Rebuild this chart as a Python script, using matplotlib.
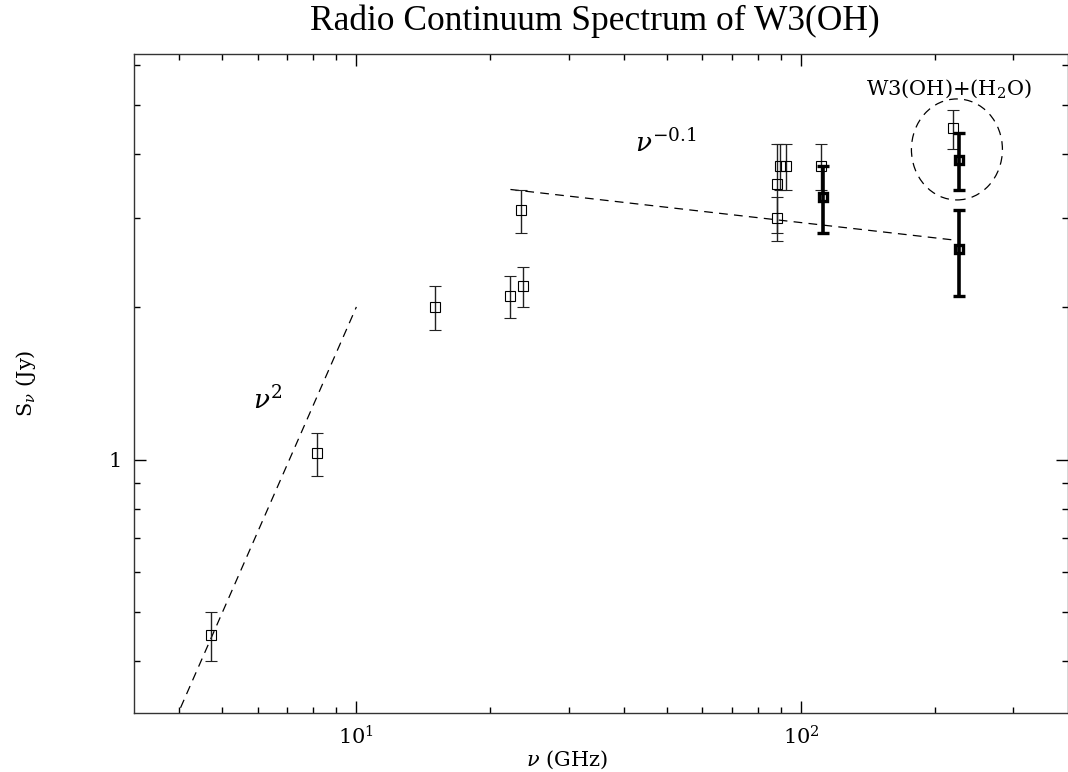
import matplotlib
matplotlib.use("Agg")
import numpy as np
import matplotlib.pyplot as plt
from matplotlib.patches import Ellipse
from matplotlib.ticker import LogLocator, FixedLocator, FixedFormatter, NullFormatter

plt.rcParams['font.family'] = ['DejaVu Serif']
plt.rcParams['mathtext.fontset'] = 'dejavuserif'

# Measurements with single-dish / interferometer (thin symbols)
nu_thin = [4.7, 8.15, 15.0, 22.2, 23.7, 23.4, 88.1, 89.6, 92.5, 88.3, 110.6, 220.0]
s_thin = [0.45, 1.03, 2.0, 2.1, 2.2, 3.1, 3.5, 3.8, 3.8, 3.0, 3.8, 4.5]
e_thin = [0.05, 0.10, 0.2, 0.2, 0.2, 0.3, 0.7, 0.4, 0.4, 0.3, 0.4, 0.4]

# New measurements (bold symbols)
nu_bold = [112.0, 226.0, 226.0]
s_bold = [3.3, 3.9, 2.6]
e_bold = [0.5, 0.5, 0.5]

# Power-law guides: (reference frequency, flux at reference, index, start, end)
pl_thick = (10.0, 2.0, 2.0, 3.9, 10.0)
pl_thin = (22.2, 3.41, -0.1, 22.2, 218.0)

# Circled region marking the W3(OH)+(H2O) blend
circ_nu, circ_s = 224.0, 4.09

fig = plt.figure(figsize=(10.68, 7.72), dpi=100)
ax = fig.add_axes([134/1068, 1 - 713/772, 934/1068, 659/772])
ax.set_xscale('log')
ax.set_yscale('log')
ax.set_xlim(10**0.5, 10**2.6)
ax.set_ylim(10**-0.5, 10**0.8)

ax.errorbar(nu_thin, s_thin, yerr=e_thin, fmt='s', ms=6.5, mfc='none', mec='black',
            mew=0.8, ecolor='#222222', elinewidth=1.0, capsize=4.3, capthick=1.6, zorder=3)
ax.errorbar(nu_bold, s_bold, yerr=e_bold, fmt='s', ms=5.5, mfc='none', mec='black',
            mew=2.4, ecolor='black', elinewidth=2.6, capsize=4.6, capthick=3.0, zorder=4)

for ref, s0, idx, a, b in (pl_thick, pl_thin):
    nus = np.array([a, b])
    ax.plot(nus, s0 * (nus / ref) ** idx, color='black', lw=0.9,
            ls=(0, (7, 5)), zorder=2)

fig.canvas.draw()
cx, cy = ax.transAxes.inverted().transform(ax.transData.transform((circ_nu, circ_s)))
ax.add_patch(Ellipse((cx, cy), 91/934, 101/659, transform=ax.transAxes,
                     fill=False, ec='black', lw=0.9, ls=(0, (7, 5))))

ax.text(6.3, 1.31, r'$\nu^2$', fontsize=19, ha='center', va='center')
ax.text(49.5, 4.2, r'$\nu^{-0.1}$', fontsize=19, ha='center', va='center')
ax.text(215, 5.40, r'W3(OH)+(H$_2$O)', fontsize=15, ha='center', va='center')

ax.xaxis.set_major_locator(FixedLocator([10, 100]))
ax.xaxis.set_major_formatter(FixedFormatter([r'$10^1$', r'$10^2$']))
ax.xaxis.set_minor_locator(LogLocator(base=10, subs=np.arange(2, 10)))
ax.xaxis.set_minor_formatter(NullFormatter())
ax.yaxis.set_major_locator(FixedLocator([1]))
ax.yaxis.set_major_formatter(FixedFormatter(['1']))
ax.yaxis.set_minor_locator(LogLocator(base=10, subs=np.arange(2, 10)))
ax.yaxis.set_minor_formatter(NullFormatter())

ax.tick_params(which='both', direction='in', top=True, right=True, width=1.0,
               labelsize=15, colors='black')
ax.tick_params(which='major', length=8.6, pad=9)
ax.tick_params(which='minor', length=4.3)
for sp in ax.spines.values():
    sp.set_linewidth(1.0)
    sp.set_color('#333333')

ax.set_xlabel(r'$\nu$ (GHz)', fontsize=15)
ax.xaxis.set_label_coords((567 - 134) / 934, -(749 - 713) / 659)
ax.set_ylabel(r'S$_\nu$ (Jy)', fontsize=15)
ax.yaxis.set_label_coords(-(134 - 38) / 934, 0.5)
fig.text(595/1068, 1 - 21/772, 'Radio Continuum Spectrum of W3(OH)',
         fontsize=25.5, ha='center', va='center', family='Liberation Serif')

fig.savefig('out.png', dpi=100)
